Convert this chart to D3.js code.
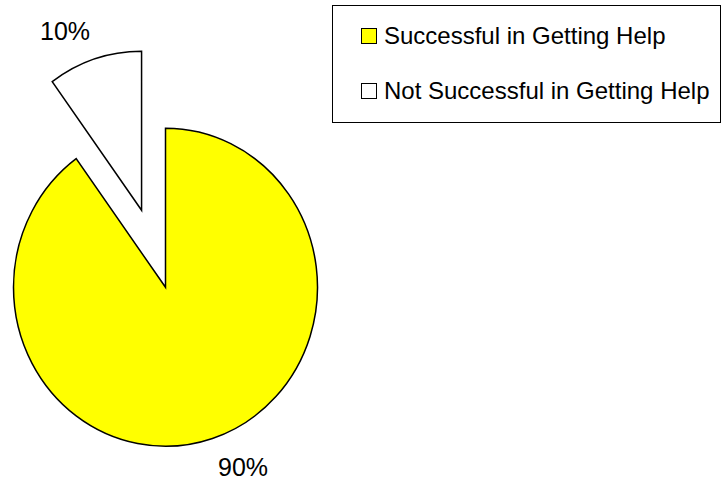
<!DOCTYPE html>
<html>
<head>
<meta charset="utf-8">
<script src="https://cdn.jsdelivr.net/npm/d3@7"></script>
<style>
  html, body { margin: 0; padding: 0; background: #fff; }
  svg { display: block; }
  text { font-family: "Liberation Sans", Arial, sans-serif; fill: #000; }
</style>
</head>
<body>
<svg id="chart" width="722" height="481"></svg>
<script>
const categories = ["Successful in Getting Help", "Not Successful in Getting Help"];
const values = [90, 10];
const labels = ["90%", "10%"];
const colors = ["#ffff00", "#ffffff"];
const exploded = [false, true];

const svg = d3.select("#chart");
const cx = 165.5, cy = 287.3, r = 159, sx = 152 / 159, explode = 81;

const pie = d3.pie().sort(null).value(d => d)(values);
const arc = d3.arc().innerRadius(0).outerRadius(r);

const g = svg.append("g").attr("transform", `translate(${cx},${cy}) scale(${sx},1)`);
g.selectAll("path").data(pie).join("path")
  .attr("d", arc)
  .attr("fill", (d, i) => colors[i])
  .attr("stroke", "#000")
  .attr("stroke-width", 1.5)
  .attr("stroke-linejoin", "miter")
  .attr("vector-effect", "non-scaling-stroke")
  .attr("transform", (d, i) => {
    if (!exploded[i]) return null;
    const a = (d.startAngle + d.endAngle) / 2;
    return `translate(${Math.sin(a) * explode},${-Math.cos(a) * explode})`;
  });

// percentage labels
const labelPos = [[218, 476], [40, 40]];
svg.selectAll("text.pct").data(labels).join("text")
  .attr("class", "pct")
  .attr("x", (d, i) => labelPos[i][0])
  .attr("y", (d, i) => labelPos[i][1])
  .attr("font-size", 25)
  .text(d => d);

// legend
const lg = svg.append("g");
lg.append("rect").attr("x", 332.5).attr("y", 5.5).attr("width", 388).attr("height", 117)
  .attr("fill", "#fff").attr("stroke", "#000").attr("stroke-width", 1);
const rowY = [44, 99];
categories.forEach((c, i) => {
  lg.append("rect").attr("x", 361.5).attr("y", rowY[i] - 15.5).attr("width", 15).attr("height", 15)
    .attr("fill", colors[i]).attr("stroke", "#000").attr("stroke-width", 1);
  lg.append("text").attr("x", 384).attr("y", rowY[i]).attr("font-size", 24)
    .text(c);
});
</script>
</body>
</html>
